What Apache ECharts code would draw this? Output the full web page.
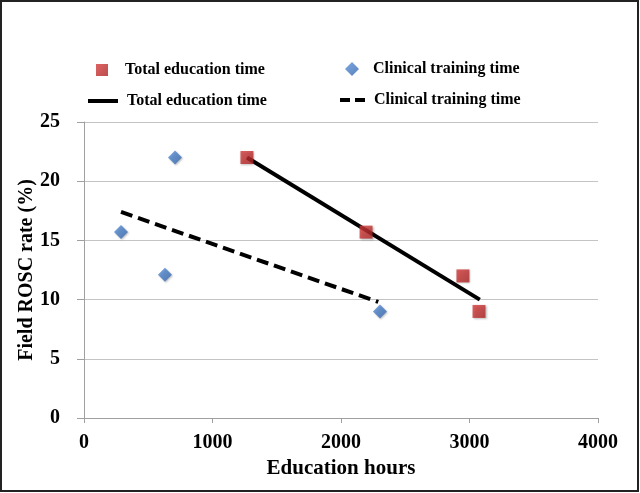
<!DOCTYPE html>
<html><head><meta charset="utf-8">
<script src="https://cdn.jsdelivr.net/npm/echarts@6/dist/echarts.min.js"></script>
<style>html,body{margin:0;padding:0;background:#fff}#c{width:640px;height:493px}</style>
</head><body><div id="c"></div>
<script>
// Data
const totalHours = [1268, 2195, 2949, 3074];
const totalRosc = [22.0, 15.7, 12.0, 9.0];
const clinicalHours = [288, 630, 708, 2303];
const clinicalRosc = [15.7, 12.1, 22.0, 9.0];
const totalTrendHours = [1268, 3080];
const totalTrendRosc = [22.0, 10.0];
const clinicalTrendHours = [288, 2290];
const clinicalTrendRosc = [17.4, 9.8];
const xTicks = [0, 1000, 2000, 3000, 4000];
const yTicks = [0, 5, 10, 15, 20, 25];

const zip = (a, b) => a.map((v, i) => [v, b[i]]);
const FONT = '"Liberation Serif", "Times New Roman", serif';
const nTotal = 'Total education time';
const nClin = 'Clinical training time';
const nTotalL = 'Total education time ';
const nClinL = 'Clinical training time ';

const legText = {fontFamily: FONT, fontWeight: 'bold', fontSize: 16, color: '#000'};
const redFill = new echarts.graphic.LinearGradient(0, 0, 1, 1, [{offset: 0, color: '#d63c3c'}, {offset: 1, color: '#ab2222'}]);
const blueFill = new echarts.graphic.LinearGradient(0, 0, 1, 1, [{offset: 0, color: '#5a90d8'}, {offset: 1, color: '#3265ad'}]);
const chart = echarts.init(document.getElementById('c'));
chart.setOption({
  animation: false,
  graphic: [{type: 'rect', shape: {x: 1, y: 1, width: 637, height: 490}, style: {fill: 'none', stroke: '#222', lineWidth: 2}, silent: true}],
  legend: [
    {data: [nTotal], left: 96, top: 62, padding: 0, itemWidth: 12, itemHeight: 12, icon: 'rect', itemStyle: {borderWidth: 0}, textStyle: Object.assign({padding: [0, 0, 0, 12]}, legText)},
    {data: [nClin], left: 345, top: 61, padding: 0, itemWidth: 14, itemHeight: 14, icon: 'diamond', itemStyle: {borderWidth: 0}, textStyle: Object.assign({padding: [0, 0, 0, 9]}, legText)},
    {data: [nTotalL], left: 88, top: 93, padding: 0, itemWidth: 30, itemHeight: 4, icon: 'rect', textStyle: Object.assign({padding: [0, 0, 0, 4]}, legText)},
    {data: [nClinL], left: 340, top: 92, padding: 0, itemWidth: 25, itemHeight: 4, icon: 'path://M0,0H10V4H0Z M15,0H25V4H15Z', textStyle: Object.assign({padding: [0, 0, 0, 4]}, legText)}
  ],
  grid: {left: 84, right: 42, top: 122, bottom: 75},
  xAxis: {
    type: 'value', min: xTicks[0], max: xTicks[xTicks.length - 1], interval: 1000,
    name: 'Education hours', nameLocation: 'middle', nameGap: 40, nameMoveOverlap: false,
    nameTextStyle: {fontFamily: FONT, fontWeight: 'bold', fontSize: 21, color: '#000'},
    axisLine: {show: true, lineStyle: {color: '#a0a0a0', width: 1}},
    axisTick: {show: true, length: 5, lineStyle: {color: '#a0a0a0'}},
    axisLabel: {fontFamily: FONT, fontWeight: 'bold', fontSize: 20, color: '#000', margin: 15, formatter: v => String(v)},
    splitLine: {show: false}
  },
  yAxis: {
    type: 'value', min: yTicks[0], max: yTicks[yTicks.length - 1], interval: 5,
    name: 'Field ROSC rate (%)', nameLocation: 'middle', nameGap: 47, nameMoveOverlap: false,
    nameTextStyle: {fontFamily: FONT, fontWeight: 'bold', fontSize: 20, color: '#000'},
    axisLine: {show: true, lineStyle: {color: '#a0a0a0', width: 1}},
    axisTick: {show: true, length: 7, lineStyle: {color: '#a0a0a0'}},
    axisLabel: {fontFamily: FONT, fontWeight: 'bold', fontSize: 20, color: '#000', margin: 24},
    splitLine: {show: true, lineStyle: {color: '#c4c4c4', width: 1}}
  },
  series: [
    {name: nTotalL, type: 'line', data: zip(totalTrendHours, totalTrendRosc), symbol: 'none', color: '#000', lineStyle: {color: '#000', width: 4}, z: 2},
    {name: nClinL, type: 'line', data: zip(clinicalTrendHours, clinicalTrendRosc), symbol: 'none', color: '#000', lineStyle: {color: '#000', width: 4, type: [12, 6]}, z: 2},
    {name: nTotal, type: 'scatter', data: zip(totalHours, totalRosc), symbol: 'rect', symbolSize: 13,
     itemStyle: {color: redFill, shadowColor: 'rgba(0,0,0,0.3)', shadowBlur: 2, shadowOffsetX: 1, shadowOffsetY: 1}, z: 3},
    {name: nClin, type: 'scatter', data: zip(clinicalHours, clinicalRosc), symbol: 'diamond', symbolSize: 14,
     itemStyle: {color: blueFill, shadowColor: 'rgba(0,0,0,0.3)', shadowBlur: 2, shadowOffsetX: 1, shadowOffsetY: 1}, z: 3}
  ]
});
</script></body></html>
